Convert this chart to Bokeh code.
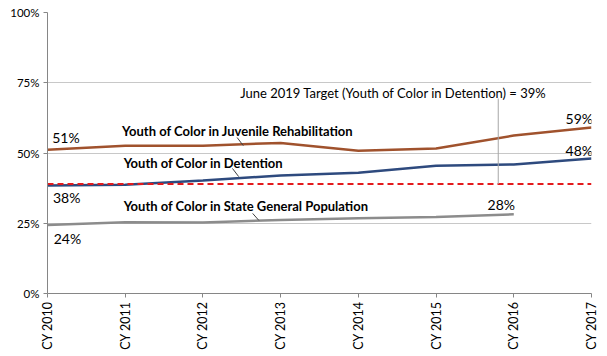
from bokeh.plotting import figure
from bokeh.models import Range1d, FixedTicker, Label
from bokeh.embed import file_html
from bokeh.resources import INLINE

years = [2010, 2011, 2012, 2013, 2014, 2015, 2016, 2017]
year_labels = ["CY 2010", "CY 2011", "CY 2012", "CY 2013", "CY 2014", "CY 2015", "CY 2016", "CY 2017"]
rehab = [51.2, 52.6, 52.6, 53.6, 50.8, 51.6, 56.2, 59.1]
detention = [38.4, 38.7, 40.2, 42.0, 43.0, 45.5, 45.9, 48.0]
general_pop_years = [2010, 2011, 2012, 2013, 2014, 2015, 2016]
general_pop = [24.4, 25.4, 25.3, 26.2, 26.8, 27.2, 28.2]
target = 39
y_ticks = [0, 25, 50, 75, 100]

FONT = "Lato"

p = figure(width=607, height=356, output_backend="svg", toolbar_location=None,
           x_range=Range1d(2010, 2017), y_range=Range1d(0, 100),
           min_border_left=47, min_border_right=16, min_border_top=12, min_border_bottom=63)
p.outline_line_color = None
p.background_fill_color = "white"

# axes
p.yaxis.ticker = FixedTicker(ticks=y_ticks)
p.yaxis.major_label_overrides = {t: f"{t}%" for t in y_ticks}
p.xaxis.ticker = FixedTicker(ticks=years)
p.xaxis.major_label_overrides = {y: l for y, l in zip(years, year_labels)}
p.xaxis.major_label_orientation = 3.14159 / 2
for ax in (p.xaxis, p.yaxis):
    ax.axis_line_color = "#868686"
    ax.major_tick_line_color = "#868686"
    ax.minor_tick_line_color = None
    ax.major_tick_in = 0
    ax.major_tick_out = 4
    ax.major_label_text_font = FONT
    ax.major_label_text_color = "#000000"
p.yaxis.major_label_text_font_size = "11.5px"
p.xaxis.major_label_text_font_size = "12.5px"
p.xaxis.major_label_standoff = 4
p.yaxis.major_label_standoff = 4
p.xgrid.grid_line_color = None
p.ygrid.ticker = FixedTicker(ticks=y_ticks)
p.ygrid.grid_line_color = "#C8C8C8"
p.ygrid.grid_line_width = 1

# series
p.line(general_pop_years, general_pop, line_color="#8C8C8C", line_width=2.5)
p.line(years, rehab, line_color="#A0522D", line_width=2.5)
p.line(years, detention, line_color="#2E4A7E", line_width=2.5)
p.line([2010, 2017], [target, target], line_color="#E31A1C", line_width=2, line_dash="6 4")

# target leader line
p.segment(x0=[2015.80], y0=[69.4], x1=[2015.80], y1=[target], line_color="#A6A6A6", line_width=1)
# series leader lines
p.segment(x0=[2012.44, 2012.38, 2012.64], y0=[55.5, 44.5, 28.5],
          x1=[2012.52, 2012.46, 2012.72], y1=[52.6, 41.6, 26.0],
          line_color="#404040", line_width=1)

def lab(x, y, text, size="12px", bold=False, align="left"):
    p.add_layout(Label(x=x, y=y, text=text, text_font=FONT, text_font_size=size,
                       text_font_style="bold" if bold else "normal",
                       text_align=align, text_baseline="middle", text_color="#000000"))

lab(2010.96, 58.0, "Youth of Color in Juvenile Rehabilitation", size="13px", bold=True)
lab(2010.98, 46.3, "Youth of Color in Detention", size="13px", bold=True)
lab(2010.98, 31.3, "Youth of Color in State General Population", size="13px", bold=True)
lab(2012.48, 71.5, "June 2019 Target (Youth of Color in  Detention) =  39%", size="13px")

lab(2010.06, 55.5, f"{round(rehab[0])}%", size="14px")
lab(2010.07, 34.2, f"{round(detention[0])}%", size="14px")
lab(2010.08, 19.7, f"{round(general_pop[0])}%", size="14px")
lab(2017.02, 62.2, f"{round(rehab[-1])}%", size="14px", align="right")
lab(2017.02, 50.9, f"{round(detention[-1])}%", size="14px", align="right")
lab(2015.84, 31.6, f"{round(general_pop[-1])}%", size="14px", align="center")

open("out.html", "w").write(file_html(p, INLINE))
